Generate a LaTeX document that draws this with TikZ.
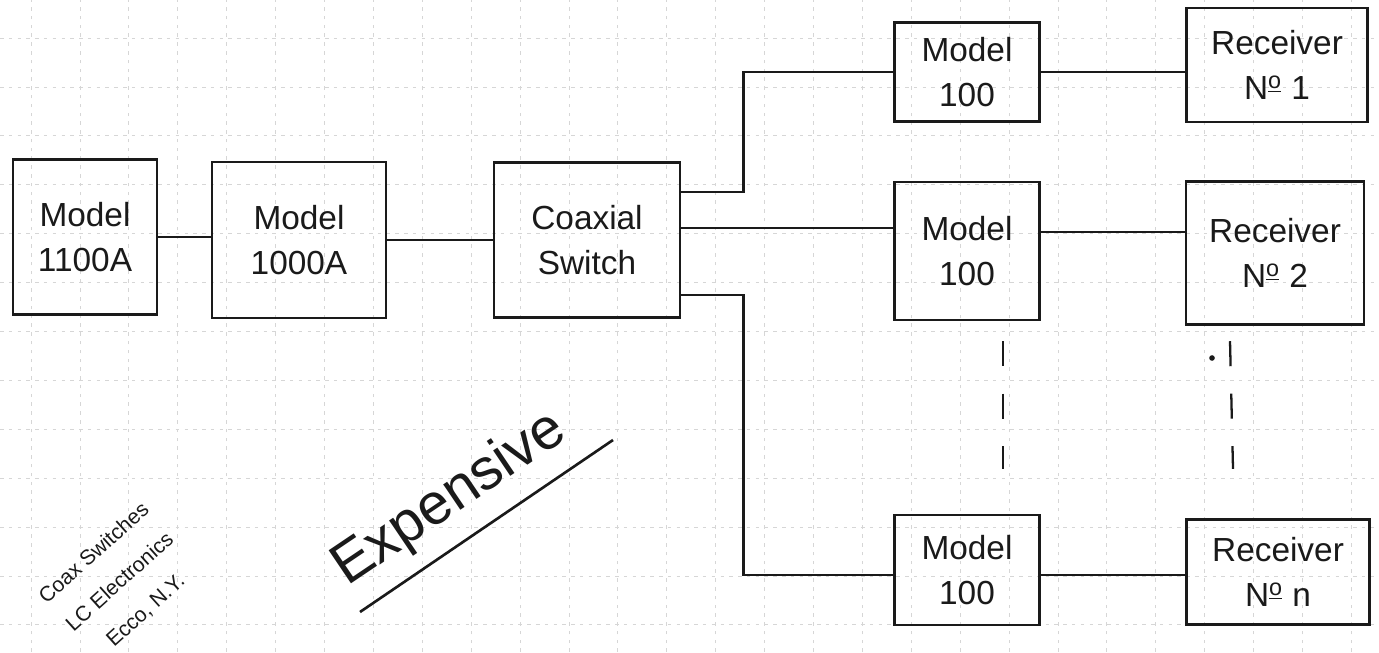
\documentclass[tikz,border=0pt]{standalone}
\usepackage{fontspec}
\setmainfont{Liberation Sans}
\usetikzlibrary{positioning,calc}
\definecolor{ink}{HTML}{1A1A1A}
\definecolor{gridline}{HTML}{D6D6D6}

\begin{document}
\begin{tikzpicture}[
  blk/.style={draw=ink, line width=1.4pt, align=center, inner sep=2pt, text=ink, font=\fontsize{19}{26}\selectfont},
  wire/.style={draw=ink, line width=1.5pt},
  gap/.style={draw=ink, line width=1.3pt, dash pattern=on 0.5cm off 0.55cm}
]
  \useasboundingbox (0,0) rectangle (27.58,13.04);
  \fill[white] (0,0) rectangle (27.58,13.04);
  % graph paper
  \foreach \i in {0,...,27}
    \draw[gridline, line width=0.4pt, dash pattern=on 2pt off 3pt] ({0.62+0.978*\i},0) -- ++(0,13.04);
  \foreach \j in {0,...,12}
    \draw[gridline, line width=0.4pt, dash pattern=on 2pt off 3pt] (0,{0.544+0.978*\j}) -- ++(27.58,0);

  % chain
  \node[blk, minimum width=2.88cm, minimum height=3.1cm]  (m1100) at (1.70,8.30)  {Model\\1100A};
  \node[blk, minimum width=3.48cm, minimum height=3.12cm] (m1000) at (5.98,8.24)  {Model\\1000A};
  \node[blk, minimum width=3.72cm, minimum height=3.1cm]  (sw)    at (11.74,8.24) {Coaxial\\Switch};

  % branches
  \node[blk, minimum width=2.9cm, minimum height=1.98cm] (mA) at (19.34,11.60) {Model\\100};
  \node[blk, minimum width=2.9cm, minimum height=2.76cm] (mB) at (19.34,8.02)  {Model\\100};
  \node[blk, minimum width=2.9cm, minimum height=2.2cm]  (mC) at (19.34,1.64)  {Model\\100};

  \node[blk, minimum width=3.62cm, minimum height=2.28cm] (rA) at (25.54,11.74) {Receiver\\N\textsuperscript{\underline{o}} 1};
  \node[blk, minimum width=3.56cm, minimum height=2.86cm] (rB) at (25.50,7.98)  {Receiver\\N\textsuperscript{\underline{o}} 2};
  \node[blk, minimum width=3.66cm, minimum height=2.1cm]  (rC) at (25.56,1.60)  {Receiver\\N\textsuperscript{\underline{o}} n};

  % wiring
  \draw[wire] (m1100.east) -- (m1100.east -| m1000.west);
  \draw[wire] (m1000.east) -- (m1000.east -| sw.west);
  \draw[wire] ([yshift=0.96cm]sw.east) -- ++(1.24,0) |- (mA.west);
  \draw[wire] ([yshift=0.24cm]sw.east) -- ([yshift=0.24cm]sw.east -| mB.west);
  \draw[wire] ([yshift=-1.1cm]sw.east) -- ++(1.24,0) |- ([yshift=-0.1cm]mC.west);
  \draw[wire] (mA.east) -- (mA.east -| rA.west);
  \draw[wire] ([yshift=0.38cm]mB.east) -- ([yshift=0.38cm]mB.east -| rB.west);
  \draw[wire] ([yshift=-0.1cm]mC.east) -- ([yshift=-0.1cm]mC.east -| rC.west);

  % more of the same
  \draw[gap] ([xshift=0.72cm,yshift=-0.4cm]mB.south) -- ([xshift=0.72cm,yshift=0.9cm]mC.north);
  \draw[gap] ([xshift=-0.9cm,yshift=-0.31cm]rB.south) -- ([xshift=-0.9cm,yshift=0.99cm]rC.north);
  \fill[ink] (24.24,5.88) circle (1.6pt);

  % remarks
  \coordinate (ulA) at (7.2,0.8);
  \coordinate (ulB) at (12.26,4.24);
  \node[text=ink, rotate=34, font=\fontsize{33}{40}\selectfont] (cost) at (9.0,3.05) {Expensive};
  \draw[wire] (ulA) -- (ulB);
  \node[text=ink, rotate=42, align=center, font=\fontsize{12}{22}\selectfont] (note) at (2.4,1.4) {Coax Switches\\LC Electronics\\Ecco, N.Y.};
\end{tikzpicture}
\end{document}
